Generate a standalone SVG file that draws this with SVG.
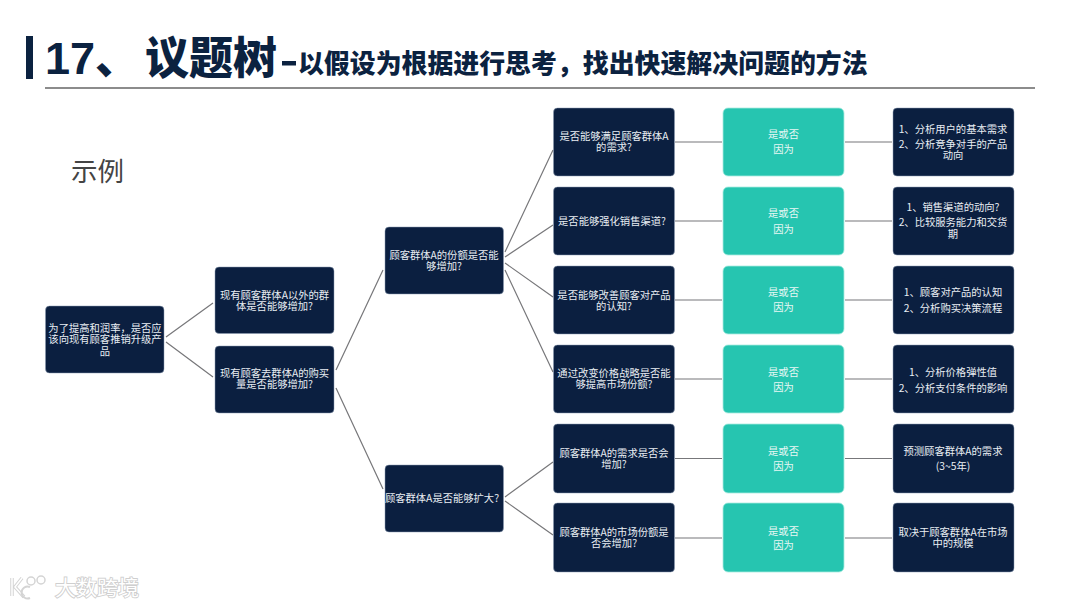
<svg xmlns="http://www.w3.org/2000/svg" width="1080" height="608" viewBox="0 0 1080 608">
<style>
text{font-family:"Liberation Sans","Noto Sans CJK SC",sans-serif}
.c{font-family:"Noto Sans CJK SC","Liberation Sans",sans-serif;font-size:10.3px;fill:#e9eef3;text-anchor:middle}
.g{font-family:"Noto Sans CJK SC","Liberation Sans",sans-serif;font-size:10.3px;fill:#e6f7f4;text-anchor:middle}
.n{fill:#0b1f40;stroke:#8a9ab0;stroke-width:.5}
.t{fill:#26c5b0;stroke:#a8ebe0;stroke-width:.8}
.l{stroke:#77777a;stroke-width:1.2;fill:none}
.h{font-family:"Noto Sans CJK SC","Liberation Sans",sans-serif;font-weight:900;fill:#0b2240}
</style>
<rect width="1080" height="608" fill="#fff"/>
<g id="title">
<rect x="26" y="36" width="7" height="43" fill="#0b2240"/>
<text x="45" y="74" style="font-family:'Liberation Sans',sans-serif;font-weight:700;font-size:45px;fill:#0b2240">17</text>
<text class="h" x="95" y="74" font-size="44">、</text>
<text class="h" x="145" y="74" font-size="44">议题树</text>
<rect x="282" y="61" width="14" height="4.500" fill="#0b2240"/>
<text class="h" x="298" y="73" font-size="25.9">以假设为根据进行思考，找出快速解决问题的方法</text>
<line x1="45" y1="88" x2="1035" y2="88" stroke="#666" stroke-width="1.5"/>
<text x="71" y="181" style="font-family:'Noto Sans CJK SC',sans-serif;font-size:26.500px;fill:#444">示例</text>
</g>
<g id="connectors" class="l">
<path d="M166 337L213 303M166 342L213 377M336 370L383 270M336 388L383 489"/>
<path d="M505 252L553 150M505 257L553 225M505 263L553 297M505 270L553 372M505 497L553 462M505 501L553 535"/>
<path d="M675 142H722M845 142H892M675 221H722M845 221H892M675 300H722M845 300H892M675 379H722M845 379H892M675 458.500H722M845 458.500H892M675 538H722M845 538H892"/>
</g>
<g id="n1"><rect class="n" x="45.500" y="306" width="118.500" height="67" rx="4"/><text class="c" y="332"><tspan x="105">为了提高和润率，是否应</tspan><tspan x="105" dy="11">该向现有顾客推销升级产</tspan><tspan x="105" dy="12">品</tspan></text></g>
<g id="n2"><rect class="n" x="215" y="267" width="119" height="66.500" rx="4"/><text class="c" y="299"><tspan x="274.500">现有顾客群体A以外的群</tspan><tspan x="274.500" dy="10.500">体是否能够增加?</tspan></text></g>
<g id="n3"><rect class="n" x="215" y="346" width="119" height="67" rx="4"/><text class="c" y="377"><tspan x="274.500">现有顾客去群体A的购买</tspan><tspan x="274.500" dy="11">量是否能够增加?</tspan></text></g>
<g id="n4"><rect class="n" x="385" y="227" width="118.500" height="67" rx="4"/><text class="c" y="259"><tspan x="444">顾客群体A的份额是否能</tspan><tspan x="444" dy="11">够增加?</tspan></text></g>
<g id="n5"><rect class="n" x="385" y="465" width="118.500" height="67" rx="4"/><text class="c" x="442" y="502">顾客群体A是否能够扩大?</text></g>

<g id="q1"><rect class="n" x="553.500" y="108" width="121" height="68" rx="4"/><text class="c" y="140"><tspan x="614">是否能够满足顾客群体A</tspan><tspan x="614" dy="11">的需求?</tspan></text></g>
<g id="q2"><rect class="n" x="553.500" y="187" width="121" height="68" rx="4"/><text class="c" x="612" y="225">是否能够强化销售渠道?</text></g>
<g id="q3"><rect class="n" x="553.500" y="266" width="121" height="68" rx="4"/><text class="c" y="299"><tspan x="614">是否能够改善顾客对产品</tspan><tspan x="614" dy="11">的认知?</tspan></text></g>
<g id="q4"><rect class="n" x="553.500" y="345" width="121" height="68" rx="4"/><text class="c" y="377"><tspan x="614">通过改变价格战略是否能</tspan><tspan x="614" dy="11">够提高市场份额?</tspan></text></g>
<g id="q5"><rect class="n" x="553.500" y="424" width="121" height="69" rx="4"/><text class="c" y="457"><tspan x="614">顾客群体A的需求是否会</tspan><tspan x="614" dy="11">增加?</tspan></text></g>
<g id="q6"><rect class="n" x="553.500" y="503" width="121" height="69" rx="4"/><text class="c" y="536"><tspan x="614">顾客群体A的市场份额是</tspan><tspan x="614" dy="11">否会增加?</tspan></text></g>

<g id="a1"><rect class="t" x="723" y="108" width="121" height="68" rx="5"/><text class="g" y="137.500"><tspan x="783.500">是或否</tspan><tspan x="783.500" dy="15.500">因为</tspan></text></g>
<g id="a2"><rect class="t" x="723" y="187" width="121" height="68" rx="5"/><text class="g" y="217"><tspan x="783.500">是或否</tspan><tspan x="783.500" dy="15.500">因为</tspan></text></g>
<g id="a3"><rect class="t" x="723" y="266" width="121" height="68" rx="5"/><text class="g" y="296"><tspan x="783.500">是或否</tspan><tspan x="783.500" dy="15">因为</tspan></text></g>
<g id="a4"><rect class="t" x="723" y="345" width="121" height="68" rx="5"/><text class="g" y="376"><tspan x="783.500">是或否</tspan><tspan x="783.500" dy="15">因为</tspan></text></g>
<g id="a5"><rect class="t" x="723" y="424" width="121" height="69" rx="5"/><text class="g" y="455"><tspan x="783.500">是或否</tspan><tspan x="783.500" dy="15">因为</tspan></text></g>
<g id="a6"><rect class="t" x="723" y="503" width="121" height="69" rx="5"/><text class="g" y="534.500"><tspan x="783.500">是或否</tspan><tspan x="783.500" dy="14.500">因为</tspan></text></g>

<g id="r1"><rect class="n" x="893" y="108" width="121" height="68" rx="4"/><text class="c" y="132.500"><tspan x="953">1、分析用户的基本需求</tspan><tspan x="953" dy="15.500">2、分析竞争对手的产品</tspan><tspan x="953" dy="11">动向</tspan></text></g>
<g id="r2"><rect class="n" x="893" y="187" width="121" height="68" rx="4"/><text class="c" y="211"><tspan x="953">1、销售渠道的动向?</tspan><tspan x="953" dy="15">2、比较服务能力和交货</tspan><tspan x="953" dy="12">期</tspan></text></g>
<g id="r3"><rect class="n" x="893" y="266" width="121" height="68" rx="4"/><text class="c" y="296"><tspan x="953">1、顾客对产品的认知</tspan><tspan x="953" dy="15.500">2、分析购买决策流程</tspan></text></g>
<g id="r4"><rect class="n" x="893" y="345" width="121" height="68" rx="4"/><text class="c" y="376"><tspan x="953">1、分析价格弹性值</tspan><tspan x="953" dy="15.500">2、分析支付条件的影响</tspan></text></g>
<g id="r5"><rect class="n" x="893" y="424" width="121" height="69" rx="4"/><text class="c" y="455"><tspan x="953">预测顾客群体A的需求</tspan><tspan x="953" dy="15">(3~5年)</tspan></text></g>
<g id="r6"><rect class="n" x="893" y="503" width="121" height="69" rx="4"/><text class="c" y="536"><tspan x="953">取决于顾客群体A在市场</tspan><tspan x="953" dy="11">中的规模</tspan></text></g>

<g id="watermark">
<path d="M12 578V596M22 578L15 587L24 597" fill="none" stroke="#d4d4d4" stroke-width="3.500"/>
<path d="M12 578V596M22 578L15 587L24 597" fill="none" stroke="#fff" stroke-width="1.500"/>
<circle cx="31" cy="581" r="4" fill="#fff" stroke="#d4d4d4" stroke-width="1.500"/>
<circle cx="41" cy="580" r="4" fill="#fff" stroke="#d4d4d4" stroke-width="1.500"/>
<path d="M30 587a6 6 0 1 0 0 11" fill="none" stroke="#d4d4d4" stroke-width="2"/>
<text x="55" y="595" style="font-family:'Noto Sans CJK SC',sans-serif;font-size:21px;fill:#fff;stroke:#cfcfcf;stroke-width:1.800;paint-order:stroke">大数跨境</text>
</g>
</svg>
